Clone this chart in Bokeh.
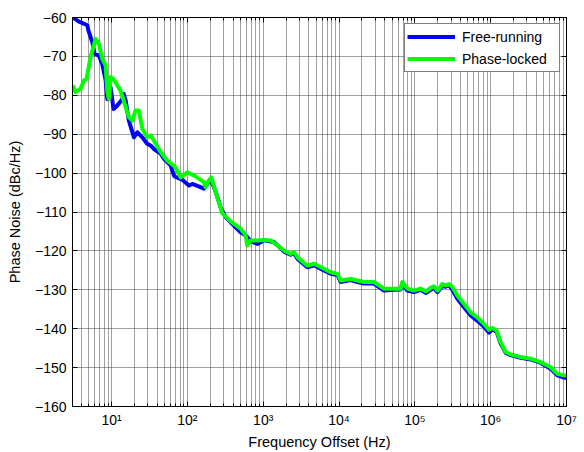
from bokeh.plotting import figure
from bokeh.models import (Range1d, FixedTicker, CustomJSTickFormatter, Legend,
                          LegendItem, LogAxis, LinearAxis)
from bokeh.embed import file_html
from bokeh.resources import INLINE

# ---------------- data ----------------
freq_free = [3.08, 3.67, 4.78, 4.97, 5.56, 5.97, 6.8, 7.53, 8.33, 8.77, 9.7, 10.6,
             11.9, 13.8, 14.4, 15.3, 16.9, 19.7, 21.8, 25.4, 29.6, 32.7, 36.1, 44.3,
             49, 60, 66.4, 69.8, 85.6, 105, 116, 149, 165, 183, 202, 236, 274, 319,
             410, 503, 586, 682, 836, 1021, 1384, 1610, 1875, 2297, 2541, 2818, 3817,
             4667, 6324, 7745, 9500, 10500, 14220, 17420, 21310, 28860, 39100, 52970,
             65000, 68400, 79600, 97300, 119000, 138800, 146000, 161500, 178600,
             198100, 230500, 254700, 281800, 312400, 363600, 444500, 544600, 701400,
             816500, 950400, 1052000, 1199000, 1355000, 1578000, 1837000, 2488000,
             3371000, 4566000, 6186000, 7581000, 9268000, 10000000]
pn_free = [-60.0, -61.0, -62.0, -63.5, -66.3, -69.3, -69.8, -72.0, -76.0, -81.0, -78.0, -83.5,
           -82.6, -81.0, -79.6, -81.3, -86.5, -90.8, -89.5, -90.8, -92.5, -92.9, -93.8, -95.0,
           -96.3, -98.0, -100.6, -101.0, -101.7, -103.2, -102.8, -103.6, -104.0, -102.8, -101.5,
           -104.8, -108.8, -111.3, -113.5, -115.2, -116.0, -117.5, -118.2, -117.3, -117.7, -118.9,
           -120.2, -121.0, -120.6, -122.0, -124.2, -123.7, -125.0, -125.9, -126.2, -128.0, -127.5,
           -128.0, -128.4, -128.4, -130.2, -130.0, -129.9, -128.5, -130.2, -130.6, -130.0, -130.8,
           -130.6, -130.0, -129.6, -130.6, -129.0, -129.2, -128.8, -130.0, -132.3, -134.5, -136.6,
           -138.3, -139.5, -141.0, -140.2, -140.8, -143.8, -146.2, -146.8, -147.5, -147.9, -148.8,
           -150.3, -152.0, -152.6, -152.6]

freq_locked = [3.08, 3.35, 3.9, 4.31, 4.68, 5.28, 6.15, 6.8, 7.53, 8.33, 8.77, 9.2, 9.7,
               10.6, 13.1, 15.3, 16.9, 18.8, 20.7, 22.9, 25.4, 29.6, 32.7, 36.1, 44.3,
               54.3, 69.8, 81.3, 94.6, 99.7, 122, 165, 174, 192, 207, 224, 288, 371, 503,
               586, 617, 682, 836, 1021, 1253, 1534, 1875, 2297, 2541, 2818, 3817, 4667,
               6324, 7745, 9500, 10500, 14220, 17420, 21310, 28860, 39100, 52970, 65000,
               68400, 79600, 97300, 119000, 138800, 146000, 161500, 178600, 198100,
               208000, 230500, 254700, 281800, 312400, 363600, 444500, 544600, 701400,
               816500, 950400, 1052000, 1199000, 1355000, 1578000, 1837000, 2488000,
               3371000, 4566000, 6186000, 7581000, 9268000, 10000000]
pn_locked = [-77.5, -79.2, -78.3, -76.2, -75.8, -70.2, -65.5, -66.8, -70.6, -72.3, -78.8, -80.9,
             -75.3, -75.8, -78.8, -83.0, -85.6, -86.5, -83.9, -83.9, -88.6, -90.8, -90.3, -91.6,
             -94.6, -96.8, -98.5, -101.1, -100.2, -99.8, -100.6, -102.3, -103.6, -101.9, -101.1,
             -103.4, -110.3, -112.4, -114.3, -116.0, -118.6, -117.3, -117.3, -117.2, -117.3,
             -118.6, -119.9, -120.8, -120.3, -121.6, -123.8, -123.3, -124.6, -125.5, -125.9,
             -127.6, -127.2, -127.6, -128.0, -128.0, -129.7, -129.7, -129.7, -128.0, -129.7,
             -130.2, -129.7, -130.4, -130.2, -129.5, -129.1, -130.2, -129.8, -128.5, -128.9,
             -128.5, -129.3, -131.5, -133.6, -135.8, -137.5, -138.8, -140.3, -139.8, -140.5,
             -143.5, -146.0, -146.6, -147.3, -147.7, -148.6, -149.9, -151.6, -152.0, -152.0]

x_major = [10, 100, 1000, 10000, 100000, 1000000, 10000000]
x_minor = [3, 4, 5, 6, 7, 8, 9,
           20, 30, 40, 50, 60, 70, 80, 90,
           200, 300, 400, 500, 600, 700, 800, 900,
           2000, 3000, 4000, 5000, 6000, 7000, 8000, 9000,
           20000, 30000, 40000, 50000, 60000, 70000, 80000, 90000,
           200000, 300000, 400000, 500000, 600000, 700000, 800000, 900000,
           2000000, 3000000, 4000000, 5000000, 6000000, 7000000, 8000000, 9000000]
y_major = [-160, -150, -140, -130, -120, -110, -100, -90, -80, -70, -60]

series_names = ["Free-running", "Phase-locked"]
series_colors = ["#0000FF", "#00FF00"]

FONT = "Liberation Sans"

# ---------------- figure ----------------
p = figure(width=584, height=452, x_axis_type="log",
           x_range=Range1d(3.05, 1e7), y_range=Range1d(-160, -60),
           output_backend="svg", toolbar_location=None,
           min_border_left=72, min_border_right=18, min_border_top=17,
           min_border_bottom=46, background_fill_color="white",
           border_fill_color="white")
p.outline_line_color = "black"
p.outline_line_width = 1

xticker = FixedTicker(ticks=x_major, minor_ticks=x_minor)
yticker = FixedTicker(ticks=y_major)

sup_fmt = CustomJSTickFormatter(code="""
const sup = {'0':'\u2070','1':'\u00b9','2':'\u00b2','3':'\u00b3','4':'\u2074',
             '5':'\u2075','6':'\u2076','7':'\u2077','8':'\u2078','9':'\u2079'};
const e = Math.round(Math.log10(tick));
return '10' + String(e).split('').map(c => sup[c]).join('');
""")

ax = p.xaxis[0]
ax.ticker = xticker
ax.formatter = sup_fmt
ax.axis_label = "Frequency Offset (Hz)"
ay = p.yaxis[0]
ay.ticker = yticker
ay.axis_label = "Phase Noise (dBc/Hz)"

for a in (ax, ay):
    a.major_tick_in = 5
    a.major_tick_out = 0
    a.minor_tick_in = 3
    a.minor_tick_out = 0
    a.axis_line_color = "black"
    a.major_tick_line_color = "black"
    a.minor_tick_line_color = "black"
    a.major_label_text_font = FONT
    a.major_label_text_font_size = "14px"
    a.major_label_text_color = "black"
    a.axis_label_text_font = FONT
    a.axis_label_text_font_size = "14.5px"
    a.axis_label_text_font_style = "normal"
    a.axis_label_text_color = "black"
ax.major_label_standoff = 5
ax.axis_label_standoff = 3
ay.major_label_standoff = 6
ay.axis_label_standoff = 9

blank = CustomJSTickFormatter(code="return '';")
top = LogAxis(ticker=xticker, formatter=blank)
right = LinearAxis(ticker=yticker, formatter=blank)
for a in (top, right):
    a.major_tick_in = 5
    a.major_tick_out = 0
    a.minor_tick_in = 3
    a.minor_tick_out = 0
    a.major_label_standoff = 0
    a.axis_line_color = "black"
p.add_layout(top, "above")
p.add_layout(right, "right")

p.xgrid.ticker = xticker
p.ygrid.ticker = yticker
for g in (p.xgrid[0], p.ygrid[0]):
    g.grid_line_color = "#404040"
    g.grid_line_dash = "1 1"
    g.grid_line_width = 1
p.xgrid.minor_grid_line_color = "#404040"
p.xgrid.minor_grid_line_dash = "1 1"
p.xgrid.minor_grid_line_width = 1

r1 = p.line(freq_free, pn_free, line_color=series_colors[0], line_width=4,
            line_join="round")
r2 = p.line(freq_locked, pn_locked, line_color=series_colors[1], line_width=4,
            line_join="round")

legend = Legend(items=[LegendItem(label=series_names[0], renderers=[r1]),
                       LegendItem(label=series_names[1], renderers=[r2])],
                location=(332, 334))
legend.border_line_color = "black"
legend.border_line_width = 1
legend.background_fill_color = "white"
legend.background_fill_alpha = 1
legend.label_text_font = FONT
legend.label_text_font_size = "14px"
legend.label_text_color = "black"
legend.glyph_width = 48
legend.glyph_height = 21
legend.label_height = 21
legend.label_width = 95
legend.label_standoff = 7
legend.padding = 2
legend.spacing = 1
legend.margin = 0
p.add_layout(legend)

open("out.html", "w").write(file_html(p, INLINE))
